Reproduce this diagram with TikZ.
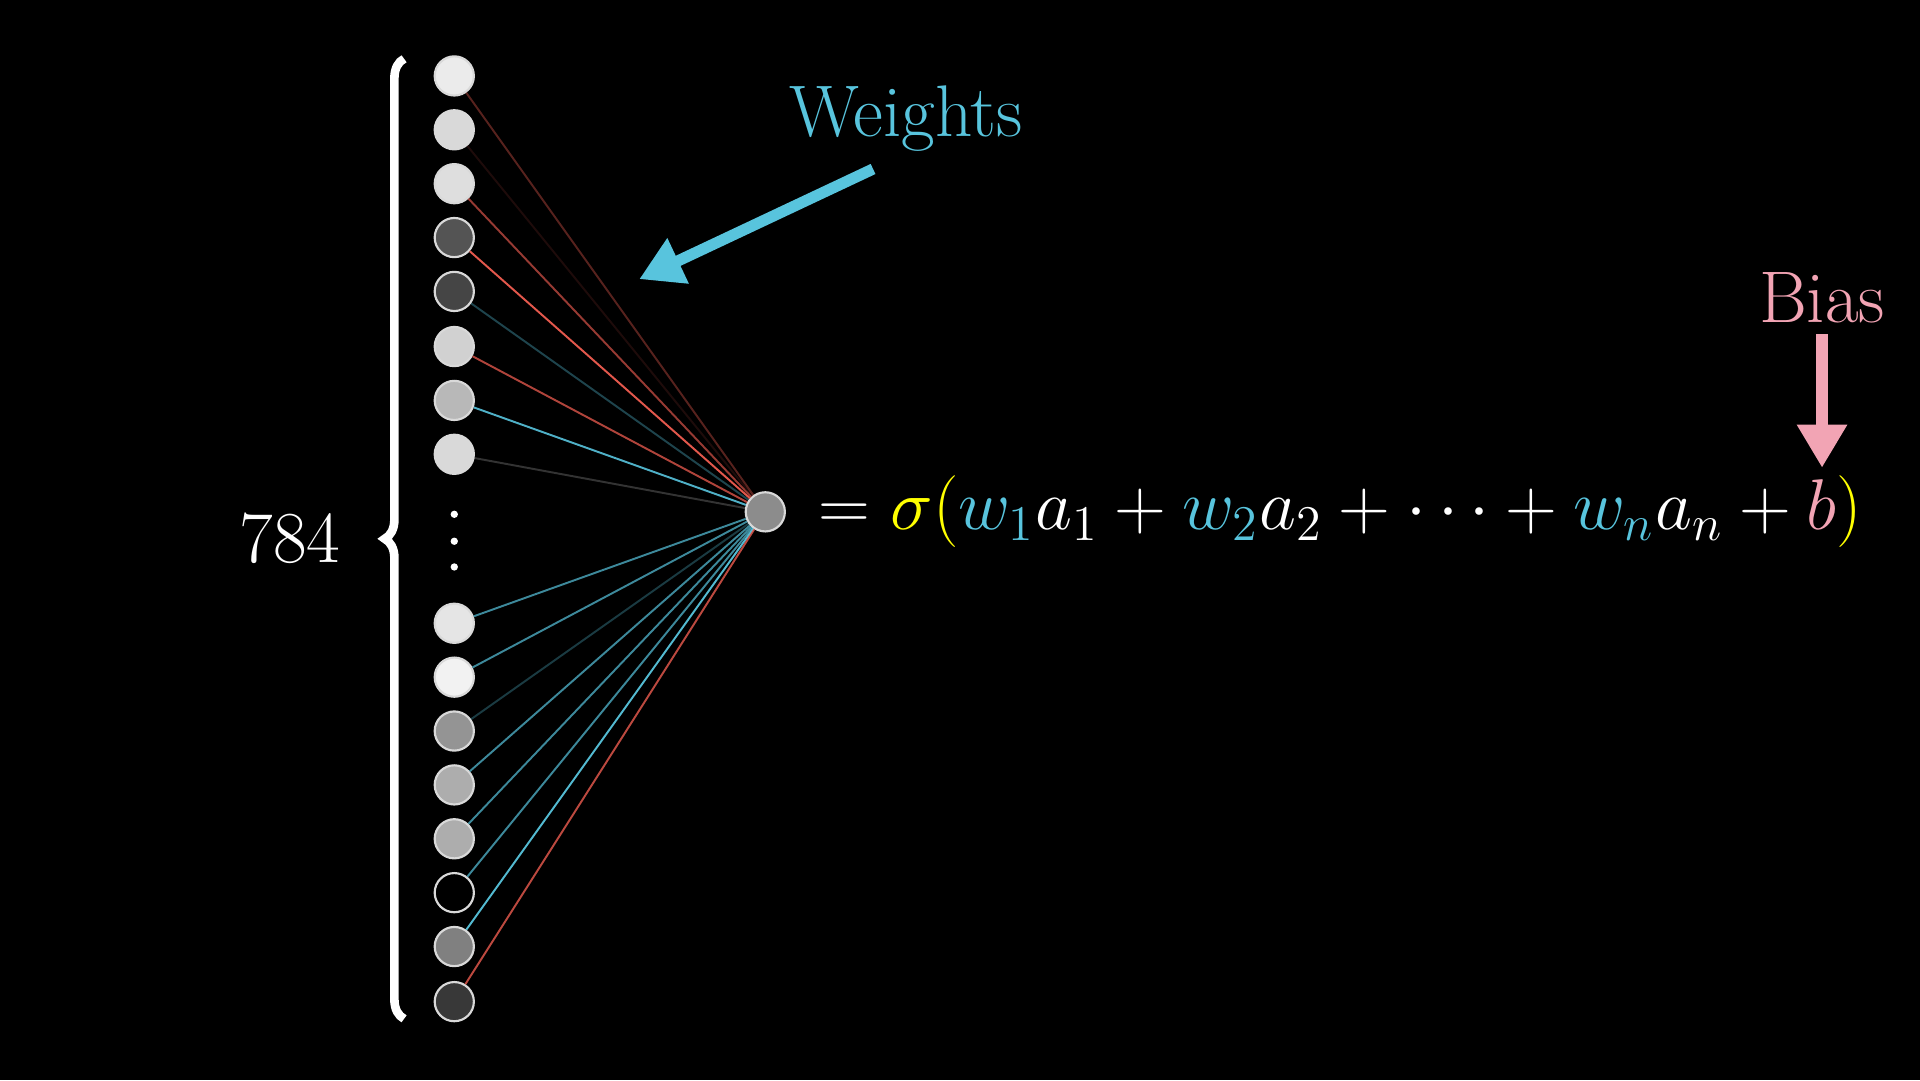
\documentclass[tikz,border=0pt]{standalone}
\usepackage{amsmath}
\usetikzlibrary{decorations.pathreplacing,arrows.meta}
\definecolor{wblue}{HTML}{58C4DD}
\definecolor{bpink}{HTML}{F2A4B4}
\definecolor{syel}{HTML}{FFFF00}
\definecolor{wred}{HTML}{FC6255}
\tikzset{neuron/.style={circle,draw=white!85!black,line width=0.5pt,minimum size=3.2mm,inner sep=0pt},
 wline/.style={line width=0.45pt}}
\begin{document}
\begin{tikzpicture}[x=0.1mm,y=-0.1mm]
\fill[black] (0,0) rectangle (1568,882);
\useasboundingbox (0,0) rectangle (1568,882);
\node[neuron,fill=black!45] (out) at (625,418) {};
\foreach \y/\g/\c/\o [count=\i] in {62/92/wred/0.35,106/85/wred/0.12,150/87/wred/0.6,194/33/wred/0.9,238/27/wblue/0.35,283/82/wred/0.7,327/72/wblue/0.9,371/85/white/0.2,
509/90/wblue/0.7,553/95/wblue/0.7,597/58/wblue/0.3,641/68/wblue/0.7,685/68/wblue/0.7,729/0/wblue/0.7,773/50/wblue/0.95,818/22/wred/0.75}{
  \node[neuron,fill=white!\g!black] (n\i) at (371,\y) {};
  \draw[wline,\c,opacity=\o] (n\i) -- (out);
}
\foreach \y in {420,442,463} \fill[white] (371,\y) circle (3);
\draw[white,line width=2pt,decorate,decoration={brace,amplitude=4.5pt}] (330,832) -- (330,48);
\node[white,font=\fontsize{17}{20}\selectfont] (n784) at (237,440) {784};
\node[wblue,font=\fontsize{17}{20}\selectfont] (wt) at (740,97) {Weights};
\coordinate (wa) at (713,138);
\coordinate (wb) at (522,228);
\draw[wblue,line width=2.6pt,-{Triangle[length=10pt,width=11pt]}] (wa) -- (wb);
\node[bpink,font=\fontsize{17}{20}\selectfont] (bias) at (1488,243) {Bias};
\coordinate (ba) at (1488,273);
\coordinate (bb) at (1488,382);
\draw[bpink,line width=2.6pt,-{Triangle[length=10pt,width=11pt]}] (ba) -- (bb);
\node[white,anchor=west,inner sep=0pt,font=\fontsize{16.8}{20}\selectfont] (eq) at (668,418) {\scalebox{0.966}{$=\textcolor{syel}{\sigma(}\textcolor{wblue}{w_1}a_1+\textcolor{wblue}{w_2}a_2+\cdots+\textcolor{wblue}{w_n}a_n+\textcolor{bpink}{b}\textcolor{syel}{)}$}};
\end{tikzpicture}
\end{document}
